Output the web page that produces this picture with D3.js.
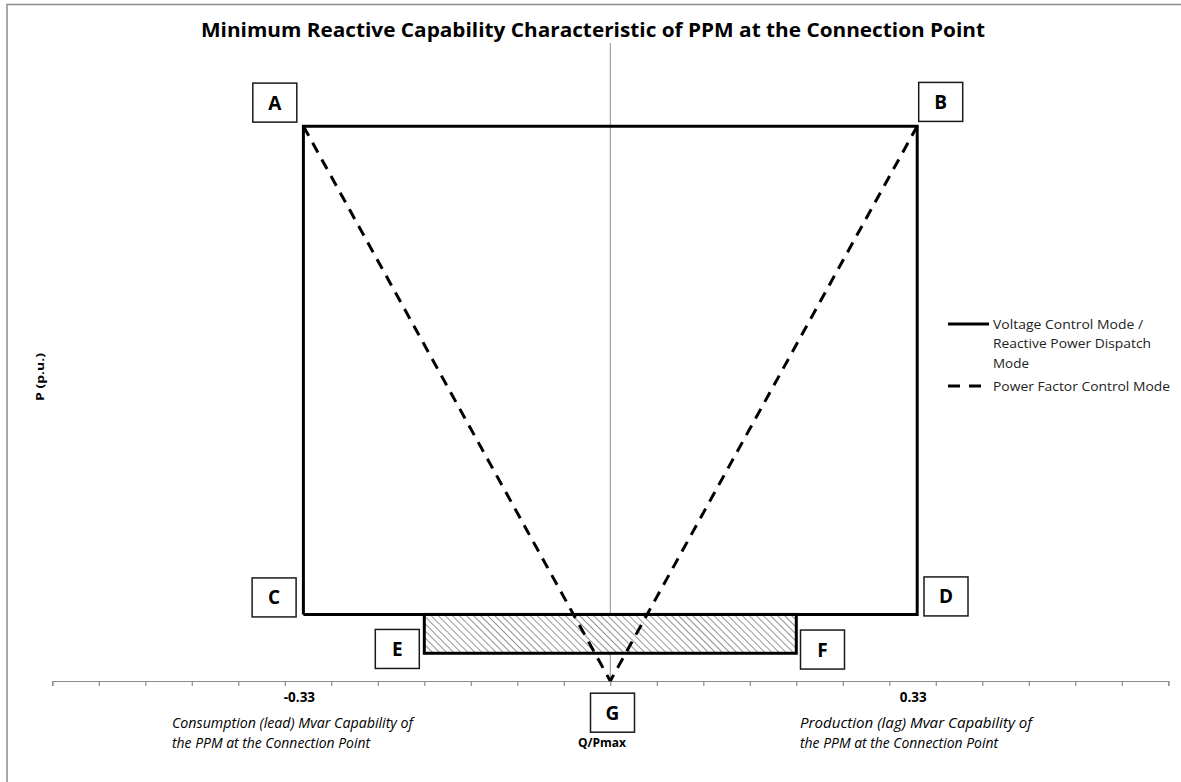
<!DOCTYPE html>
<html>
<head>
<meta charset="utf-8">
<script src="https://cdn.jsdelivr.net/npm/d3@7"></script>
<style>
  html, body { margin: 0; padding: 0; background: #fff; }
  svg { display: block; }
</style>
</head>
<body>
<svg id="chart" width="1181" height="782"></svg>
<script>
// ---------- DATA ----------
const chartTitle = "Minimum Reactive Capability Characteristic of PPM at the Connection Point";
const yAxisTitle = "P (p.u.)";
const xAxisTitle = "Q/Pmax";
const xTicks = [-0.6, -0.55, -0.5, -0.45, -0.4, -0.35, -0.3, -0.25, -0.2, -0.15, -0.1, -0.05, 0,
                0.05, 0.1, 0.15, 0.2, 0.25, 0.3, 0.35, 0.4, 0.45, 0.5, 0.55, 0.6];
const xTickLabels = [{q: -0.33, text: "-0.33"}, {q: 0.33, text: "0.33"}];
// Voltage Control Mode / Reactive Power Dispatch Mode (solid)
const solidQ = [-0.33, -0.33, 0.33, 0.33, -0.33];
const solidP = [0.12, 1, 1, 0.12, 0.12];
// Power Factor Control Mode (dashed)
const dashLeftQ = [-0.33, 0];
const dashLeftP = [1, 0];
const dashRightQ = [0.33, 0];
const dashRightP = [1, 0];
// hatched zone
const hatchQ = [-0.2, 0.2];
const hatchP = [0.05, 0.12];
// point labels
const pointNames = ["A", "B", "C", "D", "E", "F", "G"];
const pointQ = [-0.33, 0.33, -0.33, 0.33, -0.2, 0.2, 0];
const pointP = [1, 1, 0.12, 0.12, 0.05, 0.05, 0];
const legendNames = [["Voltage Control Mode /", "Reactive Power Dispatch", "Mode"], ["Power Factor Control Mode"]];
const leftNote = ["Consumption (lead) Mvar Capability of", "the PPM at the Connection Point"];
const rightNote = ["Production (lag) Mvar Capability of", "the PPM at the Connection Point"];

// ---------- LAYOUT ----------
const FONT = "'Open Sans', 'Liberation Sans', sans-serif";
const svg = d3.select("#chart");
const x = d3.scaleLinear().domain([-0.6, 0.6]).range([52.3, 1168.3]);
const y = d3.scaleLinear().domain([0, 1.15]).range([681, 43]);

// frame
svg.append("path")
  .attr("d", "M7,790 L7,4.5 L1181,4.5")
  .attr("fill", "none").attr("stroke", "#8c8c8c").attr("stroke-width", 1.5);

// title
svg.append("text")
  .attr("x", 593).attr("y", 37)
  .attr("text-anchor", "middle")
  .attr("font-family", FONT).attr("font-weight", "bold").attr("font-size", 20)
  .attr("textLength", 784).attr("lengthAdjust", "spacingAndGlyphs")
  .attr("fill", "#000")
  .text(chartTitle);

// hatch pattern
const defs = svg.append("defs");
const pat = defs.append("pattern")
  .attr("id", "hatch").attr("patternUnits", "userSpaceOnUse")
  .attr("width", 5).attr("height", 5)
  .attr("patternTransform", "rotate(45)");
pat.append("rect").attr("width", 5).attr("height", 5).attr("fill", "#fff");
pat.append("line").attr("x1", 0).attr("y1", 0).attr("x2", 5).attr("y2", 0)
  .attr("stroke", "#7a7a7a").attr("stroke-width", 1.6);

// vertical center line
svg.append("line")
  .attr("x1", x(0)).attr("x2", x(0))
  .attr("y1", y(1.15)).attr("y2", y(0))
  .attr("stroke", "#8c8c8c").attr("stroke-width", 1);

// x axis
const xAxis = d3.axisBottom(x).tickValues(xTicks).tickSize(5).tickFormat("");
const gx = svg.append("g").attr("transform", `translate(0,${y(0)})`).call(xAxis);
gx.select(".domain").attr("stroke", "#8c8c8c").attr("stroke-width", 1.2);
gx.selectAll(".tick line").attr("stroke", "#8c8c8c").attr("stroke-width", 1.2);

// hatched rect
svg.append("rect")
  .attr("x", x(hatchQ[0])).attr("y", y(hatchP[1]))
  .attr("width", x(hatchQ[1]) - x(hatchQ[0]))
  .attr("height", y(hatchP[0]) - y(hatchP[1]))
  .attr("fill", "url(#hatch)")
  .attr("stroke", "#000").attr("stroke-width", 3);

// solid box
const line = d3.line().x(d => x(d[0])).y(d => y(d[1]));
svg.append("path")
  .datum(solidQ.map((q, i) => [q, solidP[i]]))
  .attr("d", line)
  .attr("fill", "none").attr("stroke", "#000").attr("stroke-width", 3)
  .attr("stroke-linejoin", "miter");

// dashed lines
[[dashLeftQ, dashLeftP], [dashRightQ, dashRightP]].forEach(([qs, ps]) => {
  svg.append("path")
    .datum(qs.map((q, i) => [q, ps[i]]))
    .attr("d", line)
    .attr("fill", "none").attr("stroke", "#000").attr("stroke-width", 3)
    .attr("stroke-dasharray", "11,8");
});

// point label boxes (offsets from the anchor point)
const labelOffset = {A: [-28.6, -23.6], B: [23.5, -24.3], C: [-29.3, -17], D: [28.8, -18],
                     E: [-27, -4.3], F: [26.2, -3.7], G: [2.2, 31.7]};
pointNames.forEach((n, i) => {
  const cx = x(pointQ[i]) + labelOffset[n][0];
  const cy = y(pointP[i]) + labelOffset[n][1];
  svg.append("rect")
    .attr("x", cx - 22).attr("y", cy - 19.5)
    .attr("width", 44).attr("height", 39)
    .attr("fill", "#fff").attr("stroke", "#1a1a1a").attr("stroke-width", 1.5);
  svg.append("text")
    .attr("x", cx).attr("y", cy + 7)
    .attr("text-anchor", "middle")
    .attr("font-family", FONT).attr("font-weight", "bold").attr("font-size", 19)
    .attr("fill", "#000")
    .text(n);
});

// tick labels
xTickLabels.forEach(t => {
  svg.append("text")
    .attr("x", x(t.q) - 4).attr("y", 702)
    .attr("text-anchor", "middle")
    .attr("font-family", FONT).attr("font-weight", "bold").attr("font-size", 13.5)
    .attr("fill", "#000")
    .text(t.text);
});

// x axis title
svg.append("text")
  .attr("x", 602).attr("y", 747)
  .attr("text-anchor", "middle")
  .attr("font-family", FONT).attr("font-weight", "bold").attr("font-size", 12)
  .attr("fill", "#000")
  .text(xAxisTitle);

// y axis title
svg.append("text")
  .attr("transform", "translate(44,377) rotate(-90)")
  .attr("text-anchor", "middle")
  .attr("font-family", FONT).attr("font-weight", "bold").attr("font-size", 11)
  .attr("textLength", 48).attr("lengthAdjust", "spacingAndGlyphs")
  .attr("fill", "#000")
  .text(yAxisTitle);

// notes
function note(lines, x0, widths) {
  lines.forEach((s, i) => {
    svg.append("text")
      .attr("x", x0).attr("y", 728 + i * 19.5)
      .attr("font-family", FONT).attr("font-style", "italic").attr("font-size", 15)
      .attr("textLength", widths[i]).attr("lengthAdjust", "spacingAndGlyphs")
      .attr("fill", "#000")
      .text(s);
  });
}
note(leftNote, 172, [241, 198]);
note(rightNote, 800, [232, 198]);

// legend
const lg = svg.append("g");
lg.append("line").attr("x1", 948).attr("x2", 989).attr("y1", 324).attr("y2", 324)
  .attr("stroke", "#000").attr("stroke-width", 3);
const legW = [150, 158, 36];
legendNames[0].forEach((s, i) => {
  lg.append("text")
    .attr("x", 993).attr("y", 329 + i * 19.3)
    .attr("font-family", FONT).attr("font-size", 13.5)
    .attr("textLength", legW[i]).attr("lengthAdjust", "spacingAndGlyphs")
    .attr("fill", "#222")
    .text(s);
});
lg.append("line").attr("x1", 948).attr("x2", 981).attr("y1", 386).attr("y2", 386)
  .attr("stroke", "#000").attr("stroke-width", 3).attr("stroke-dasharray", "12,9");
lg.append("text")
  .attr("x", 993).attr("y", 391)
  .attr("font-family", FONT).attr("font-size", 13.5)
  .attr("fill", "#222")
  .attr("textLength", 177).attr("lengthAdjust", "spacingAndGlyphs")
  .text(legendNames[1][0]);
</script>
</body>
</html>
